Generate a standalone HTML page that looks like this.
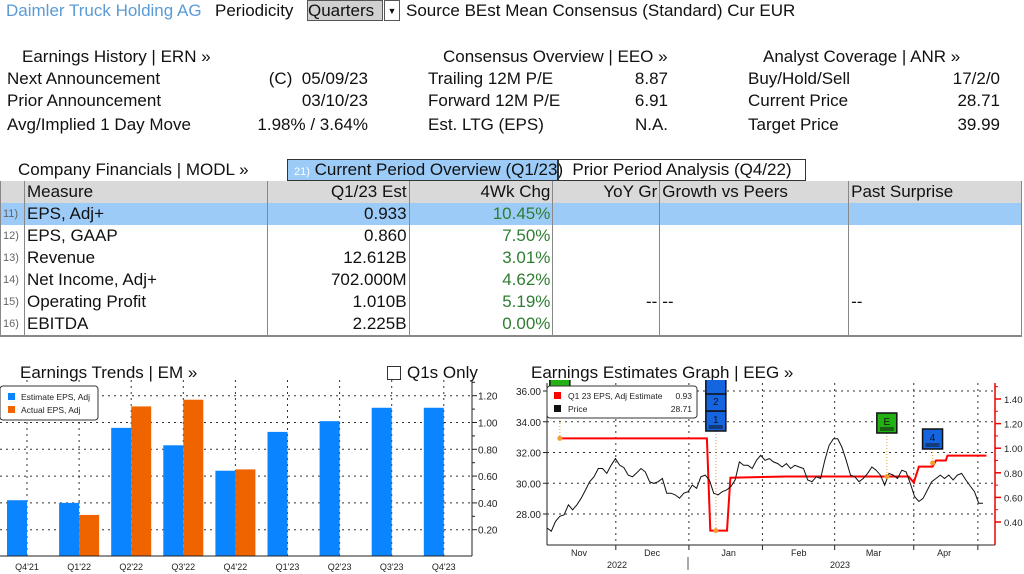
<!DOCTYPE html>
<html><head><meta charset="utf-8">
<style>
body{margin:0;width:1024px;height:574px;background:#fff;overflow:hidden;position:relative;font-family:"Liberation Sans",sans-serif;color:#111;}
.t{position:absolute;font-size:17px;white-space:nowrap;line-height:20px;}
.r{text-align:right;}
table{position:absolute;left:0;top:181px;border-collapse:collapse;font-size:17px;}
td{height:22px;padding:0 2px;border-left:1px solid #888;white-space:nowrap;line-height:22px;}
.hd td{background:#d9d9d9;}
.sel td{background:#9ccbf7;}
.g{color:#2e7d32;text-align:right;}
.n{font-size:11px;color:#666;}
</style></head><body>
<div class="t" style="left:6px;top:1px;color:#5b9bd5">Daimler Truck Holding AG</div>
<div class="t" style="left:215px;top:1px">Periodicity</div>
<div class="t" style="left:307px;top:0px;width:74px;height:19px;background:#d0d0d0;border:1px solid #555">Quarters</div>
<div class="t" style="left:384px;top:0px;width:14px;height:19px;border:1px solid #555;font-size:9px;text-align:center">▼</div>
<div class="t" style="left:406px;top:1px">Source BEst Mean Consensus (Standard) Cur EUR</div>

<div class="t" style="left:22px;top:47px">Earnings History | ERN »</div>
<div class="t" style="left:7px;top:69px">Next Announcement</div>
<div class="t r" style="left:200px;width:168px;top:69px">(C)&nbsp; 05/09/23</div>
<div class="t" style="left:7px;top:91px">Prior Announcement</div>
<div class="t r" style="left:200px;width:168px;top:91px">03/10/23</div>
<div class="t" style="left:7px;top:115px">Avg/Implied 1 Day Move</div>
<div class="t r" style="left:200px;width:168px;top:115px">1.98% / 3.64%</div>

<div class="t" style="left:443px;top:47px">Consensus Overview | EEO »</div>
<div class="t" style="left:428px;top:69px">Trailing 12M P/E</div>
<div class="t r" style="left:600px;width:68px;top:69px">8.87</div>
<div class="t" style="left:428px;top:91px">Forward 12M P/E</div>
<div class="t r" style="left:600px;width:68px;top:91px">6.91</div>
<div class="t" style="left:428px;top:115px">Est. LTG (EPS)</div>
<div class="t r" style="left:600px;width:68px;top:115px">N.A.</div>

<div class="t" style="left:763px;top:47px">Analyst Coverage | ANR »</div>
<div class="t" style="left:748px;top:69px">Buy/Hold/Sell</div>
<div class="t r" style="left:900px;width:100px;top:69px">17/2/0</div>
<div class="t" style="left:748px;top:91px">Current Price</div>
<div class="t r" style="left:900px;width:100px;top:91px">28.71</div>
<div class="t" style="left:748px;top:115px">Target Price</div>
<div class="t r" style="left:900px;width:100px;top:115px">39.99</div>

<div class="t" style="left:18px;top:160px">Company Financials | MODL »</div>
<div class="t" style="left:287px;top:159px;width:269px;height:20px;background:#9ccbf7;border:1px solid #333;"><span class="n" style="color:#fff;margin-left:6px">21)</span> Current Period Overview (Q1/23)</div>
<div class="t" style="left:558px;top:159px;width:246px;height:20px;border:1px solid #333;text-align:center">Prior Period Analysis (Q4/22)</div>

<table style="width:1022px;border-bottom:2px solid #888;border-right:1px solid #888">
<colgroup><col style="width:24px"><col style="width:243px"><col style="width:142px"><col style="width:144px"><col style="width:107px"><col style="width:189px"><col style="width:173px"></colgroup>
<tr class="hd"><td></td><td>Measure</td><td class="r">Q1/23 Est</td><td class="r">4Wk Chg</td><td class="r">YoY Gr</td><td>Growth vs Peers</td><td>Past Surprise</td></tr>
<tr class="sel"><td class="n">11)</td><td>EPS, Adj+</td><td class="r">0.933</td><td class="g">10.45%</td><td></td><td></td><td></td></tr>
<tr><td class="n">12)</td><td>EPS, GAAP</td><td class="r">0.860</td><td class="g">7.50%</td><td></td><td></td><td></td></tr>
<tr><td class="n">13)</td><td>Revenue</td><td class="r">12.612B</td><td class="g">3.01%</td><td></td><td></td><td></td></tr>
<tr><td class="n">14)</td><td>Net Income, Adj+</td><td class="r">702.000M</td><td class="g">4.62%</td><td></td><td></td><td></td></tr>
<tr><td class="n">15)</td><td>Operating Profit</td><td class="r">1.010B</td><td class="g">5.19%</td><td class="r">--</td><td>--</td><td>--</td></tr>
<tr><td class="n">16)</td><td>EBITDA</td><td class="r">2.225B</td><td class="g">0.00%</td><td></td><td></td><td></td></tr>
</table>

<div class="t" style="left:20px;top:363px">Earnings Trends | EM »</div>
<div class="t" style="left:387px;top:366px;width:12px;height:12px;border:1px solid #333"></div>
<div class="t" style="left:407px;top:363px">Q1s Only</div>
<div class="t" style="left:531px;top:363px">Earnings Estimates Graph | EEG »</div>

<svg id="c1" style="position:absolute;left:0;top:380px" width="510" height="194" font-family="Liberation Sans, sans-serif"></svg>
<svg id="c2" style="position:absolute;left:0;top:380px" width="1024" height="194" font-family="Liberation Sans, sans-serif"></svg>

<script>
const NS="http://www.w3.org/2000/svg";
function mk(p,t,a){const e=document.createElementNS(NS,t);for(const k in a)e.setAttribute(k,a[k]);p.appendChild(e);return e;}

// ---- Chart 1: Earnings trends ----
const categories=["Q4 21","Q1 22","Q2 22","Q3 22","Q4 22","Q1 23","Q2 23","Q3 23","Q4 23"];
const estimateEPS=[0.42,0.40,0.96,0.83,0.64,0.93,1.01,1.11,1.11];
const actualEPS=[null,0.31,1.12,1.17,0.65,null,null,null,null];
const yTicks1=[0.20,0.40,0.60,0.80,1.00,1.20];
const c1=document.getElementById('c1');
const y1=v=>176.5-v*134;   // local coords (top=380)
const x1=i=>27+i*52.1;
yTicks1.forEach(v=>{
  const g=mk(c1,'line',{x1:0,x2:472,y1:y1(v),y2:y1(v),stroke:'#333','stroke-dasharray':'2,4'});
  
  
  const t=mk(c1,'text',{x:478,y:y1(v)+4,'font-size':10,fill:'#222'});t.textContent=v.toFixed(2);
  
  
  mk(c1,'line',{x1:472,x2:477,y1:y1(v),y2:y1(v),stroke:'#222'});
  mk(c1,'line',{x1:472,x2:475,y1:y1(v+0.1),y2:y1(v+0.1),stroke:'#222'});
});
categories.forEach((c,i)=>{
  const gl=mk(c1,'line',{x1:x1(i),x2:x1(i),y1:0,y2:176,stroke:'#333','stroke-dasharray':'2,4'});
  
  
  const e=estimateEPS[i];
  if(e!=null){const b=mk(c1,'rect',{x:x1(i)-20,y:y1(e),width:20,height:y1(0)-y1(e),fill:'#0a84ff'});
    
    }
  const a=actualEPS[i];
  if(a!=null){const b=mk(c1,'rect',{x:x1(i),y:y1(a),width:20,height:y1(0)-y1(a),fill:'#f06400'});
    
    }
  const t=mk(c1,'text',{x:x1(i),y:190,'font-size':9,fill:'#222','text-anchor':'middle'});t.textContent=c.replace(' ',"'");
  
  
});
mk(c1,'line',{x1:472,x2:472,y1:0,y2:176,stroke:'#222'});
mk(c1,'line',{x1:0,x2:472,y1:176,y2:176,stroke:'#222'});
const lg=mk(c1,'g',{});


mk(lg,'rect',{x:0,y:6,width:98,height:34,rx:3,fill:'#fff',stroke:'#333'});
mk(lg,'rect',{x:8,y:13,width:7,height:7,fill:'#0a84ff'});
mk(lg,'rect',{x:8,y:26,width:7,height:7,fill:'#f06400'});
let lt=mk(lg,'text',{x:21,y:20,'font-size':8.5,fill:'#222'});lt.textContent='Estimate EPS, Adj';
lt=mk(lg,'text',{x:21,y:33,'font-size':8.5,fill:'#222'});lt.textContent='Actual EPS, Adj';

// ---- Chart 2: EEG ----
const price=[27.09,26.88,27.52,27.85,27.95,28.60,28.27,28.60,29.03,29.56,30.10,30.42,30.96,30.96,30.64,31.17,31.60,31.17,31.02,30.53,30.42,30.68,30.96,30.74,30.10,29.99,30.10,30.31,29.35,29.35,29.24,29.03,29.35,29.45,29.88,29.67,30.42,30.53,30.21,29.35,29.24,29.45,29.56,29.78,30.21,31.39,31.17,31.17,30.96,31.49,31.82,31.49,31.60,31.39,31.28,31.06,31.28,30.96,31.17,31.06,30.96,30.21,30.10,30.42,30.31,31.49,32.46,32.89,32.89,32.35,31.49,30.53,30.42,30.10,30.31,30.64,31.06,30.85,30.53,29.88,30.64,30.53,30.31,30.85,30.74,29.99,29.13,28.81,29.03,29.56,30.10,30.31,30.53,30.31,30.53,30.21,30.53,30.64,30.21,29.82,29.45,28.70,28.70];
const estIdx=[3,37.4,38.2,42.1,42.9,55.9,84.6,85.8,87,90.2,91,93.3,93.7,102.8];
const estVal=[1.08,1.08,0.33,0.33,0.76,0.77,0.77,0.72,0.85,0.85,0.90,0.90,0.94,0.94];
const leftTicks=[28,30,32,34,36];
const rightTicks=[0.4,0.6,0.8,1.0,1.2,1.4];
const monthIdx=[16.1,33.2,50.4,67.3,85.8,100.8];
const monthLabels=["Nov","Dec","Jan","Feb","Mar","Apr"];
const monthLabelIdx=[7.5,24.6,42.5,58.9,76.4,92.9];
const c2=document.getElementById('c2');
const nP=price.length;
const x2=i=>547+i*(436/(nP-1));
const yL=v=>11+(36-v)*123/8;
const yR=v=>19+(1.4-v)*123;
leftTicks.forEach(v=>{
  const g=mk(c2,'line',{x1:547,x2:995,y1:yL(v),y2:yL(v),stroke:'#333','stroke-dasharray':'2,4'});
  
  
  const t=mk(c2,'text',{x:541,y:yL(v)+4,'font-size':10,fill:'#222','text-anchor':'end'});t.textContent=v.toFixed(2);
  
  
  mk(c2,'line',{x1:543,x2:547,y1:yL(v),y2:yL(v),stroke:'#222'});
});
rightTicks.forEach(v=>{
  mk(c2,'line',{x1:995,x2:1001,y1:yR(v),y2:yR(v),stroke:'#e00',"stroke-width":1.5});
  mk(c2,'line',{x1:995,x2:998,y1:yR(v+0.1),y2:yR(v+0.1),stroke:'#e00'});
  const t=mk(c2,'text',{x:1004,y:yR(v)+4,'font-size':9.5,fill:'#222'});t.textContent=v.toFixed(2);
  
  
});
monthIdx.forEach(i=>{
  const g=mk(c2,'line',{x1:x2(i),x2:x2(i),y1:3,y2:165,stroke:'#333','stroke-dasharray':'2,4'});
  
  
  mk(c2,'line',{x1:x2(i),x2:x2(i),y1:165,y2:170,stroke:'#222'});
});
monthLabels.forEach((m,k)=>{
  const t=mk(c2,'text',{x:x2(monthLabelIdx[k]),y:176,'font-size':9,fill:'#222','text-anchor':'middle'});t.textContent=m;
  
  
});
let yt=mk(c2,'text',{x:617,y:188,'font-size':9,fill:'#222','text-anchor':'middle'});yt.textContent='2022';
yt=mk(c2,'text',{x:840,y:188,'font-size':9,fill:'#222','text-anchor':'middle'});yt.textContent='2023';
mk(c2,'line',{x1:688,x2:688,y1:177,y2:190,stroke:'#555'});
mk(c2,'line',{x1:547,x2:547,y1:3,y2:165,stroke:'#222'});
mk(c2,'line',{x1:547,x2:995,y1:165,y2:165,stroke:'#222'});
mk(c2,'line',{x1:995,x2:995,y1:3,y2:165,stroke:'#e00',"stroke-width":1.5});
// estimate step line
let d='';estIdx.forEach((i,k)=>{d+=(k?'L':'M')+x2(i).toFixed(1)+','+yR(estVal[k]).toFixed(1);});
const el=mk(c2,'path',{d:d,fill:'none',stroke:'#f00','stroke-width':2});


// price line
d='';price.forEach((v,i)=>{d+=(i?'L':'M')+x2(i).toFixed(1)+','+yL(v).toFixed(1);});
const pl=mk(c2,'path',{d:d,fill:'none',stroke:'#111','stroke-width':1});


// event markers
const evIdx=[3,39.5,79.5,90.2];
const evLabel=["","1","E","4"];
const evColor=["#22b014","#1565e0","#22b014","#1565e0"];
const evTop=[-4,31,33,49];
const evVal=[1.08,0.33,0.77,0.88];
evIdx.forEach((i,k)=>{
  const x=x2(i);
  mk(c2,'line',{x1:x,x2:x,y1:evTop[k]+20,y2:yR(evVal[k]),stroke:'#f0a030','stroke-dasharray':'1,2'});
  mk(c2,'circle',{cx:x,cy:yR(evVal[k]),r:2.5,fill:'#f0a030'});
  const g=mk(c2,'g',{});
  
  
  mk(g,'rect',{x:x-10,y:evTop[k],width:20,height:20,fill:evColor[k],stroke:'#111','stroke-width':1.5});
  mk(g,'line',{x1:x-7,x2:x+7,y1:evTop[k]+15,y2:evTop[k]+15,stroke:'#111'});
  mk(g,'line',{x1:x-7,x2:x+7,y1:evTop[k]+17,y2:evTop[k]+17,stroke:'#111'});
  const t=mk(g,'text',{x:x,y:evTop[k]+12,'font-size':10,fill:'#111','text-anchor':'middle'});t.textContent=evLabel[k];
});
// stacked boxes 2 and top above "1"
[["2",13],["",-4]].forEach(([lab,top])=>{
  const x=x2(39.5);
  const g=mk(c2,'g',{});
  
  
  mk(g,'rect',{x:x-10,y:top,width:20,height:18,fill:'#1565e0',stroke:'#111','stroke-width':1.5});
  const t=mk(g,'text',{x:x,y:top+12,'font-size':10,fill:'#111','text-anchor':'middle'});t.textContent=lab;
});
const lg2=mk(c2,'g',{});


mk(lg2,'rect',{x:547,y:6,width:150,height:32,rx:3,fill:'#fff',stroke:'#333'});
mk(lg2,'rect',{x:554,y:12,width:7,height:7,fill:'#f00'});
mk(lg2,'rect',{x:554,y:25,width:7,height:7,fill:'#111'});
lt=mk(lg2,'text',{x:568,y:19,'font-size':8.5,fill:'#222'});lt.textContent='Q1 23 EPS, Adj Estimate';
lt=mk(lg2,'text',{x:692,y:19,'font-size':8.5,fill:'#222','text-anchor':'end'});lt.textContent='0.93';
lt=mk(lg2,'text',{x:568,y:32,'font-size':8.5,fill:'#222'});lt.textContent='Price';
lt=mk(lg2,'text',{x:692,y:32,'font-size':8.5,fill:'#222','text-anchor':'end'});lt.textContent='28.71';
</script>
</body></html>
